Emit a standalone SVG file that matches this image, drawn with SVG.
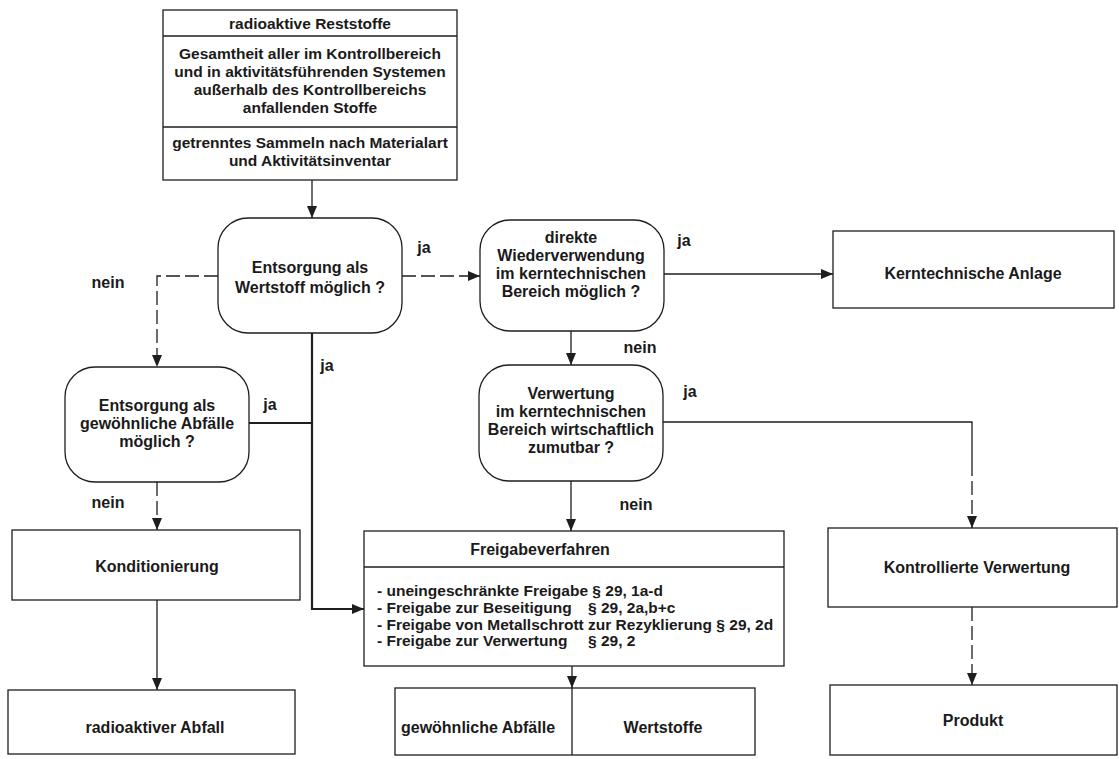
<svg xmlns="http://www.w3.org/2000/svg" width="1119" height="759" viewBox="0 0 1119 759">
<defs>
<style>
.box{fill:#fff;stroke:#1e1e1e;stroke-width:1.3}
.ln{fill:none;stroke:#1e1e1e;stroke-width:1.3}
.thick{fill:none;stroke:#1e1e1e;stroke-width:2.2}
.dash{fill:none;stroke:#1e1e1e;stroke-width:1.3;stroke-dasharray:14 5}
.t{font-family:"Liberation Sans",Arial,sans-serif;font-weight:bold;fill:#1a1a1a;text-anchor:middle;font-size:16px}
.s{font-size:15.5px}
.l{text-anchor:start}
</style>
<marker id="ah" markerUnits="userSpaceOnUse" markerWidth="12" markerHeight="10" refX="12" refY="5" orient="auto">
<path d="M0,0 L12,5 L0,10 z" fill="#1e1e1e"/>
</marker>
</defs>
<rect width="1119" height="759" fill="#fff"/>

<g id="connectors">
<path class="ln" d="M312,180 V218" marker-end="url(#ah)"/>
<path class="dash" d="M402,276 H480" marker-end="url(#ah)"/>
<path class="ln" d="M664,274 H833" marker-end="url(#ah)"/>
<path class="dash" d="M218,276 H157 V367" marker-end="url(#ah)"/>
<path class="thick" d="M312,333 V609 H364" marker-end="url(#ah)"/>
<path class="thick" d="M249,423 H312"/>
<path class="ln" d="M571,331 V365" marker-end="url(#ah)"/>
<path class="ln" d="M663,422 H972 V462"/>
<path class="dash" d="M972,462 V528" marker-end="url(#ah)"/>
<path class="ln" d="M571,481 V531" marker-end="url(#ah)"/>
<path class="dash" d="M157,482 V530" marker-end="url(#ah)"/>
<path class="ln" d="M157,600 V690" marker-end="url(#ah)"/>
<path class="ln" d="M572,666 V688" marker-end="url(#ah)"/>
<path class="dash" d="M972,607 V685" marker-end="url(#ah)"/>
<text class="t" x="424" y="253">ja</text>
<text class="t" x="327" y="371">ja</text>
<text class="t" x="270" y="410">ja</text>
<text class="t" x="684" y="246">ja</text>
<text class="t" x="690" y="397">ja</text>
<text class="t" x="108" y="288">nein</text>
<text class="t" x="108" y="508">nein</text>
<text class="t" x="640" y="353">nein</text>
<text class="t" x="636" y="510">nein</text>
</g>

<g id="reststoffe">
<rect class="box" x="163" y="10" width="294" height="170"/>
<line class="ln" x1="163" y1="36" x2="457" y2="36"/>
<line class="ln" x1="163" y1="127" x2="457" y2="127"/>
<text class="t s" x="310" y="29">radioaktive Reststoffe</text>
<text class="t s" x="310" y="59">Gesamtheit aller im Kontrollbereich</text>
<text class="t s" x="310" y="77">und in aktivitätsführenden Systemen</text>
<text class="t s" x="310" y="95">außerhalb des Kontrollbereichs</text>
<text class="t s" x="310" y="113">anfallenden Stoffe</text>
<text class="t s" x="310" y="148">getrenntes Sammeln nach Materialart</text>
<text class="t s" x="310" y="166">und Aktivitätsinventar</text>
</g>

<g id="entsorgung-wertstoff">
<rect class="box" x="218" y="218" width="184" height="115" rx="30"/>
<text class="t" x="310" y="273">Entsorgung als</text>
<text class="t" x="310" y="293">Wertstoff möglich ?</text>
</g>

<g id="wiederverwendung">
<rect class="box" x="480" y="220" width="184" height="111" rx="30"/>
<text class="t" x="571" y="243">direkte</text>
<text class="t" x="571" y="261">Wiederverwendung</text>
<text class="t" x="571" y="279">im kerntechnischen</text>
<text class="t" x="571" y="297">Bereich möglich ?</text>
</g>

<g id="kerntechnische-anlage">
<rect class="box" x="833" y="231" width="281" height="77"/>
<text class="t" x="973" y="279">Kerntechnische Anlage</text>
</g>

<g id="verwertung">
<rect class="box" x="479" y="365" width="184" height="116" rx="30"/>
<text class="t" x="571" y="399">Verwertung</text>
<text class="t" x="571" y="417">im kerntechnischen</text>
<text class="t" x="571" y="435">Bereich wirtschaftlich</text>
<text class="t" x="571" y="453">zumutbar ?</text>
</g>

<g id="entsorgung-abfaelle">
<rect class="box" x="65" y="367" width="184" height="115" rx="30"/>
<text class="t" x="157" y="411">Entsorgung als</text>
<text class="t" x="157" y="429">gewöhnliche Abfälle</text>
<text class="t" x="157" y="447">möglich ?</text>
</g>

<g id="konditionierung">
<rect class="box" x="12" y="530" width="288" height="70"/>
<text class="t" x="157" y="572">Konditionierung</text>
</g>

<g id="radioaktiver-abfall">
<rect class="box" x="8" y="690" width="287" height="64"/>
<text class="t" x="155" y="733">radioaktiver Abfall</text>
</g>

<g id="freigabeverfahren">
<rect class="box" x="364" y="531" width="420" height="135"/>
<line class="ln" x1="364" y1="567" x2="784" y2="567"/>
<text class="t" x="540" y="555">Freigabeverfahren</text>
<text class="t s l" x="377" y="596">- uneingeschränkte Freigabe § 29, 1a-d</text>
<text class="t s l" x="377" y="613">- Freigabe zur Beseitigung<tspan x="588">§ 29, 2a,b+c</tspan></text>
<text class="t s l" x="377" y="630">- Freigabe von Metallschrott zur Rezyklierung § 29, 2d</text>
<text class="t s l" x="377" y="646">- Freigabe zur Verwertung<tspan x="588">§ 29, 2</tspan></text>
</g>

<g id="ergebnis">
<rect class="box" x="395" y="688" width="360" height="67"/>
<line class="ln" x1="572" y1="688" x2="572" y2="755"/>
<text class="t" x="478" y="733">gewöhnliche Abfälle</text>
<text class="t" x="663" y="733">Wertstoffe</text>
</g>

<g id="kontrollierte-verwertung">
<rect class="box" x="828" y="528" width="289" height="79"/>
<text class="t" x="977" y="573">Kontrollierte Verwertung</text>
</g>

<g id="produkt">
<rect class="box" x="830" y="685" width="287" height="70"/>
<text class="t" x="973" y="726">Produkt</text>
</g>
</svg>
